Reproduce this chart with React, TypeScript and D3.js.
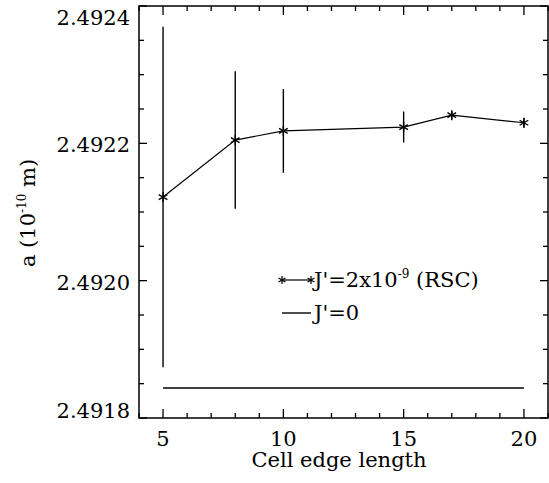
import React from "react";
import * as d3 from "d3";

const cellEdge = [5, 8, 10, 15, 17, 20];
const latticeRSC = [2.4921218, 2.4922048, 2.492218, 2.4922237, 2.492241, 2.49223];
const latticeErr = [0.000248, 0.0001, 0.000061, 0.0000226, 0.000006, 0.000007];
const zeroLineX = [5, 20];
const zeroLineY = [2.4918437, 2.4918437];
const xMajorTicks = [5, 10, 15, 20];
const yMajorTicks = [2.4918, 2.492, 2.4922, 2.4924];
const legendLabels = ["J'=2x10", "J'=0"];

const W = 549;
const H = 483;
const L = 139, R = 548, T = 6, B = 418;
const TS: React.CSSProperties = { fontFamily: "'DejaVu Serif'" };

function starPath(cx: number, cy: number, r: number) {
  const p = d3.path();
  for (let i = 0; i < 3; i++) {
    const ang = (Math.PI / 3) * i + Math.PI / 2;
    const dx = Math.cos(ang) * r, dy = Math.sin(ang) * r;
    p.moveTo(cx - dx, cy - dy);
    p.lineTo(cx + dx, cy + dy);
  }
  return p.toString();
}

export default function App() {
  const x = d3.scaleLinear().domain([4, 21]).range([L, R]);
  const y = d3.scaleLinear().domain([2.4918, 2.4924]).range([B, T]);
  const xMinor = d3.range(4, 22, 1);
  const yMinor = d3.range(0, 13).map((i) => 2.4918 + i * 0.00005);
  const line = d3
    .line<number>()
    .x((_, i) => x(cellEdge[i]))
    .y((d) => y(d));
  const zeroLine = d3
    .line<number>()
    .x((_, i) => x(zeroLineX[i]))
    .y((d) => y(d));

  const labelShift = [0, 9, 9, 19];

  return (
    <svg width={W} height={H} style={{ position: "absolute", left: 0, top: 0, background: "#fff" }}>
      <rect x={0} y={0} width={W} height={H} fill="#fff" />
      {xMinor.map((v) => {
        const major = xMajorTicks.includes(v);
        const len = major ? 9 : 5;
        return (
          <g key={"xt" + v} stroke="#000" strokeWidth={1.3}>
            <line x1={x(v)} x2={x(v)} y1={B} y2={B - len} />
            <line x1={x(v)} x2={x(v)} y1={T} y2={T + len} />
          </g>
        );
      })}
      {yMinor.map((v, i) => {
        const major = i % 4 === 0;
        const len = major ? 8 : 5;
        return (
          <g key={"yt" + i} stroke="#000" strokeWidth={1.3}>
            <line x1={L} x2={L + len} y1={y(v)} y2={y(v)} />
            <line x1={R} x2={R - len} y1={y(v)} y2={y(v)} />
          </g>
        );
      })}
      <rect x={L} y={T} width={R - L} height={B - T} fill="none" stroke="#000" strokeWidth={1.5} />
      {xMajorTicks.map((v) => (
        <text key={"xl" + v} style={TS} x={x(v)} y={446} textAnchor="middle" fontSize={21} fill="#000">
          {v}
        </text>
      ))}
      {yMajorTicks.map((v, i) => (
        <text
          key={"yl" + v}
          style={TS}
          x={130}
          y={y(v) + labelShift[i]}
          textAnchor="end"
          fontSize={21}
          fill="#000"
        >
          {v.toFixed(4)}
        </text>
      ))}
      <text style={TS} x={339} y={467} textAnchor="middle" fontSize={21} fill="#000">
        Cell edge length
      </text>
      <text
        style={TS}
        transform={`translate(35,213) rotate(-90)`}
        textAnchor="middle"
        fontSize={21}
        fill="#000"
      >
        a (10
        <tspan dy={-9} fontSize={12}>-10</tspan>
        <tspan dy={9}> m)</tspan>
      </text>
      {cellEdge.map((c, i) => (
        <line
          key={"eb" + i}
          x1={x(c)}
          x2={x(c)}
          y1={y(latticeRSC[i] - latticeErr[i])}
          y2={y(latticeRSC[i] + latticeErr[i])}
          stroke="#000"
          strokeWidth={1.4}
        />
      ))}
      <path d={line(latticeRSC) || ""} fill="none" stroke="#000" strokeWidth={1.2} />
      {cellEdge.map((c, i) => (
        <path key={"mk" + i} d={starPath(x(c), y(latticeRSC[i]), 5)} stroke="#000" strokeWidth={1.4} fill="none" />
      ))}
      <path d={zeroLine(zeroLineY) || ""} fill="none" stroke="#000" strokeWidth={1.4} />
      <line x1={282} x2={311} y1={280} y2={280} stroke="#000" strokeWidth={1.2} />
      <path d={starPath(282, 280, 4)} stroke="#000" strokeWidth={1.2} fill="none" />
      <path d={starPath(311, 280, 4)} stroke="#000" strokeWidth={1.2} fill="none" />
      <text style={TS} x={314} y={287} fontSize={21} fill="#000">
        {legendLabels[0]}
        <tspan dy={-9} fontSize={12}>-9</tspan>
        <tspan dy={9}> (RSC)</tspan>
      </text>
      <line x1={282} x2={311} y1={313} y2={313} stroke="#000" strokeWidth={1.4} />
      <text style={TS} x={314} y={320} fontSize={21} fill="#000">
        {legendLabels[1]}
      </text>
    </svg>
  );
}
